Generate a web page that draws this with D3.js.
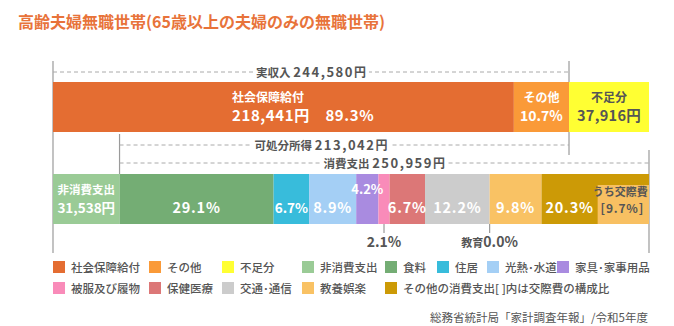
<!DOCTYPE html>
<html><head><meta charset="utf-8">
<script src="https://cdn.jsdelivr.net/npm/d3@7"></script>
<style>
html,body{margin:0;padding:0;background:#fff;}
svg{display:block;font-family:"Noto Sans CJK JP","Noto Sans",sans-serif;}
</style></head>
<body>
<svg id="c" width="674" height="326"></svg>
<script>
// ---- data ----
const incomeLabels = ["社会保障給付", "その他", "不足分"];
const incomeValues = [218441, 26139, 37916];
const incomePct = [89.3, 10.7, null];
const realIncome = 244580;
const disposableIncome = 213042;
const nonConsumption = 31538;
const consumptionTotal = 250959;
const consumptionLabels = ["食料", "住居", "光熱･水道", "家具･家事用品", "被服及び履物", "保健医療", "交通･通信", "教育", "教養娯楽", "その他の消費支出"];
const consumptionPct = [29.1, 6.7, 8.9, 4.2, 2.1, 6.7, 12.2, 0.0, 9.8, 20.3];
const socialExpensePct = 9.7;
const legendRow1 = ["社会保障給付", "その他", "不足分", "非消費支出", "食料", "住居", "光熱･水道", "家具･家事用品"];
const legendRow2 = ["被服及び履物", "保健医療", "交通･通信", "教養娯楽", "その他の消費支出[ ]内は交際費の構成比"];

const colors = {
  "社会保障給付": "#E46D32", "その他": "#FA9A38", "不足分": "#FFFF33",
  "非消費支出": "#9ACB96", "食料": "#74AD74", "住居": "#38BCDB",
  "光熱･水道": "#A4CFF5", "家具･家事用品": "#A98BE0", "被服及び履物": "#F98BB9",
  "保健医療": "#DC7777", "交通･通信": "#CCCCCC", "教育": "#999999",
  "教養娯楽": "#F9C264", "その他の消費支出": "#CC9A06",
  "その他の消費支出[ ]内は交際費の構成比": "#CC9A06", "交際費": "#F8C062"
};

const svg = d3.select("#c");
const fmt = d3.format(",");
const total = nonConsumption + consumptionTotal;
const x = d3.scaleLinear().domain([0, total]).range([53, 649]);

const topY = 82, barH = 50, botY = 174;
const gray = "#555";
const lineCol = "#9a9a9a";

// title
svg.append("text").attr("x", 18).attr("y", 28).attr("fill", "#E8733A")
  .attr("font-size", 16).attr("font-weight", 700)
  .text("高齢夫婦無職世帯(65歳以上の夫婦のみの無職世帯)");

// vertical guide lines
function vline(v, y1, y2) {
  svg.append("line").attr("x1", x(v)).attr("x2", x(v)).attr("y1", y1).attr("y2", y2)
    .attr("stroke", lineCol).attr("stroke-width", 1.2);
}
vline(0, 61, 253);
vline(realIncome, 61, 155);
vline(nonConsumption, 134, 174);
vline(total, 150, 253);

// dashed bracket with label
function bracket(v0, v1, y, parts, cx) {
  const g = svg.append("g");
  g.append("line").attr("x1", x(v0)).attr("x2", x(v1)).attr("y1", y).attr("y2", y)
    .attr("stroke", "#aaa").attr("stroke-dasharray", "4,3").attr("stroke-width", 1);
  const t = g.append("text").attr("x", cx == null ? (x(v0) + x(v1)) / 2 : cx).attr("y", y + 4.5)
    .attr("text-anchor", "middle").attr("fill", gray).attr("font-weight", 700);
  parts.forEach(p => t.append("tspan").attr("font-size", p[1]).attr("letter-spacing", p[2] || 0).text(p[0]));
  const bb = t.node().getBBox();
  g.insert("rect", "text").attr("x", bb.x - 3).attr("y", y - 5).attr("width", bb.width + 6).attr("height", 10).attr("fill", "#fff");
}
bracket(0, realIncome, 72, [["実収入 ", 11.5], [fmt(realIncome), 13, 1.5], ["円", 12]]);
bracket(nonConsumption, realIncome, 145, [["可処分所得 ", 11.5], [fmt(disposableIncome), 13, 1.5], ["円", 12]], 321);
bracket(nonConsumption, total, 163, [["消費支出 ", 11.5], [fmt(consumptionTotal), 13, 1.5], ["円", 12]]);

// top bar
let acc = 0;
const topData = incomeLabels.map((n, i) => { const d = {name: n, v0: acc, v1: acc + incomeValues[i], value: incomeValues[i], pct: incomePct[i]}; acc += incomeValues[i]; return d; });
svg.append("g").selectAll("rect").data(topData).join("rect")
  .attr("x", d => x(d.v0)).attr("y", topY).attr("width", d => x(d.v1) - x(d.v0)).attr("height", barH)
  .attr("fill", d => colors[d.name]);

// top labels
{
  const d = topData[0];
  svg.append("text").attr("x", 232).attr("y", topY + 20).attr("fill", "#fff").attr("font-size", 12).attr("font-weight", 700).text(d.name);
  svg.append("text").attr("x", 232).attr("y", topY + 39).attr("fill", "#fff").attr("font-size", 15).attr("font-weight", 700)
    .attr("letter-spacing", 0.6).text(fmt(d.value) + "円　" + d.pct.toFixed(1) + "%");
  const o = topData[1], oc = (x(o.v0) + x(o.v1)) / 2;
  svg.append("text").attr("x", oc).attr("y", topY + 20).attr("text-anchor", "middle").attr("fill", "#fff").attr("font-size", 12).attr("font-weight", 700).text(o.name);
  svg.append("text").attr("x", oc).attr("y", topY + 39).attr("text-anchor", "middle").attr("fill", "#fff").attr("font-size", 14).attr("font-weight", 700).text(o.pct.toFixed(1) + "%");
  const s = topData[2], sc = (x(s.v0) + x(s.v1)) / 2;
  svg.append("text").attr("x", sc).attr("y", topY + 20).attr("text-anchor", "middle").attr("fill", gray).attr("font-size", 12).attr("font-weight", 700).text(s.name);
  svg.append("text").attr("x", sc).attr("y", topY + 39).attr("text-anchor", "middle").attr("fill", gray).attr("font-size", 14.5).attr("font-weight", 700).attr("letter-spacing", 0.3).text(fmt(s.value) + "円");
}

// bottom bar
const botData = [{name: "非消費支出", v0: 0, v1: nonConsumption, value: nonConsumption}];
acc = nonConsumption;
consumptionLabels.forEach((n, i) => {
  const v = consumptionTotal * consumptionPct[i] / 100;
  botData.push({name: n, v0: acc, v1: acc + v, pct: consumptionPct[i]});
  acc += v;
});
svg.append("g").selectAll("rect").data(botData).join("rect")
  .attr("x", d => x(d.v0)).attr("y", botY).attr("width", d => Math.max(0, x(d.v1) - x(d.v0))).attr("height", barH)
  .attr("fill", d => colors[d.name]);

// 交際費 box inside その他の消費支出
const other = botData[botData.length - 1];
const socV0 = other.v1 - consumptionTotal * socialExpensePct / 100;
svg.append("rect").attr("x", x(socV0)).attr("y", botY + 11).attr("width", x(other.v1) - x(socV0)).attr("height", barH - 11)
  .attr("fill", colors["交際費"]);
const socC = (x(socV0) + x(other.v1)) / 2;
svg.append("text").attr("x", socC - 3).attr("y", botY + 22).attr("text-anchor", "middle").attr("fill", gray).attr("font-size", 11).attr("font-weight", 700).text("うち交際費");
svg.append("text").attr("x", socC - 1).attr("y", botY + 39).attr("text-anchor", "middle").attr("fill", gray).attr("font-size", 12).attr("font-weight", 700).attr("letter-spacing", 0.8).text("[" + socialExpensePct.toFixed(1) + "%]");

// bottom labels
botData.forEach((d, i) => {
  const cx = (x(d.v0) + x(d.v1)) / 2;
  if (i === 0) {
    svg.append("text").attr("x", cx).attr("y", botY + 20).attr("text-anchor", "middle").attr("fill", "#fff").attr("font-size", 11.5).attr("font-weight", 700).text(d.name);
    svg.append("text").attr("x", cx).attr("y", botY + 39).attr("text-anchor", "middle").attr("fill", "#fff").attr("font-size", 13.5).attr("font-weight", 700).text(fmt(d.value) + "円");
    return;
  }
  const label = d.pct.toFixed(1) + "%";
  if (d.name === "被服及び履物" || d.name === "教育") {
    svg.append("line").attr("x1", cx).attr("x2", cx).attr("y1", botY + barH).attr("y2", botY + barH + 9).attr("stroke", lineCol).attr("stroke-width", 1.2);
    const t = svg.append("text").attr("x", cx).attr("y", botY + barH + 23).attr("text-anchor", "middle").attr("fill", gray).attr("font-weight", 700);
    if (d.name === "教育") t.append("tspan").attr("font-size", 11).text("教育");
    t.append("tspan").attr("font-size", 14).text(label);
    return;
  }
  let lx = cx, ly = botY + 39, fs = 14.5;
  if (d.name === "家具･家事用品") { ly = botY + 20; fs = 13; }
  if (d.name === "住居") fs = 13.5;
  if (d.name === "その他の消費支出") lx = (x(d.v0) + x(socV0)) / 2;
  svg.append("text").attr("x", lx).attr("y", ly).attr("text-anchor", "middle").attr("fill", "#fff")
    .attr("font-size", fs).attr("font-weight", 700).attr("letter-spacing", fs >= 14.5 ? 0.8 : 0).text(label);
});

// legend
const colX = [53, 149, 222, 302, 385, 437, 487, 557];
function legendRow(items, y) {
  items.forEach((n, i) => {
    svg.append("rect").attr("x", colX[i]).attr("y", y - 6).attr("width", 12).attr("height", 12).attr("fill", colors[n]);
    svg.append("text").attr("x", colX[i] + 18).attr("y", y + 4.5).attr("fill", gray).attr("font-size", 11.5).attr("font-weight", 500).text(n);
  });
}
legendRow(legendRow1, 267);
legendRow(legendRow2, 288);

// source
svg.append("text").attr("x", 648).attr("y", 322).attr("text-anchor", "end").attr("fill", gray).attr("font-size", 11.5)
  .text("総務省統計局「家計調査年報」/令和5年度");
</script>
</body></html>
